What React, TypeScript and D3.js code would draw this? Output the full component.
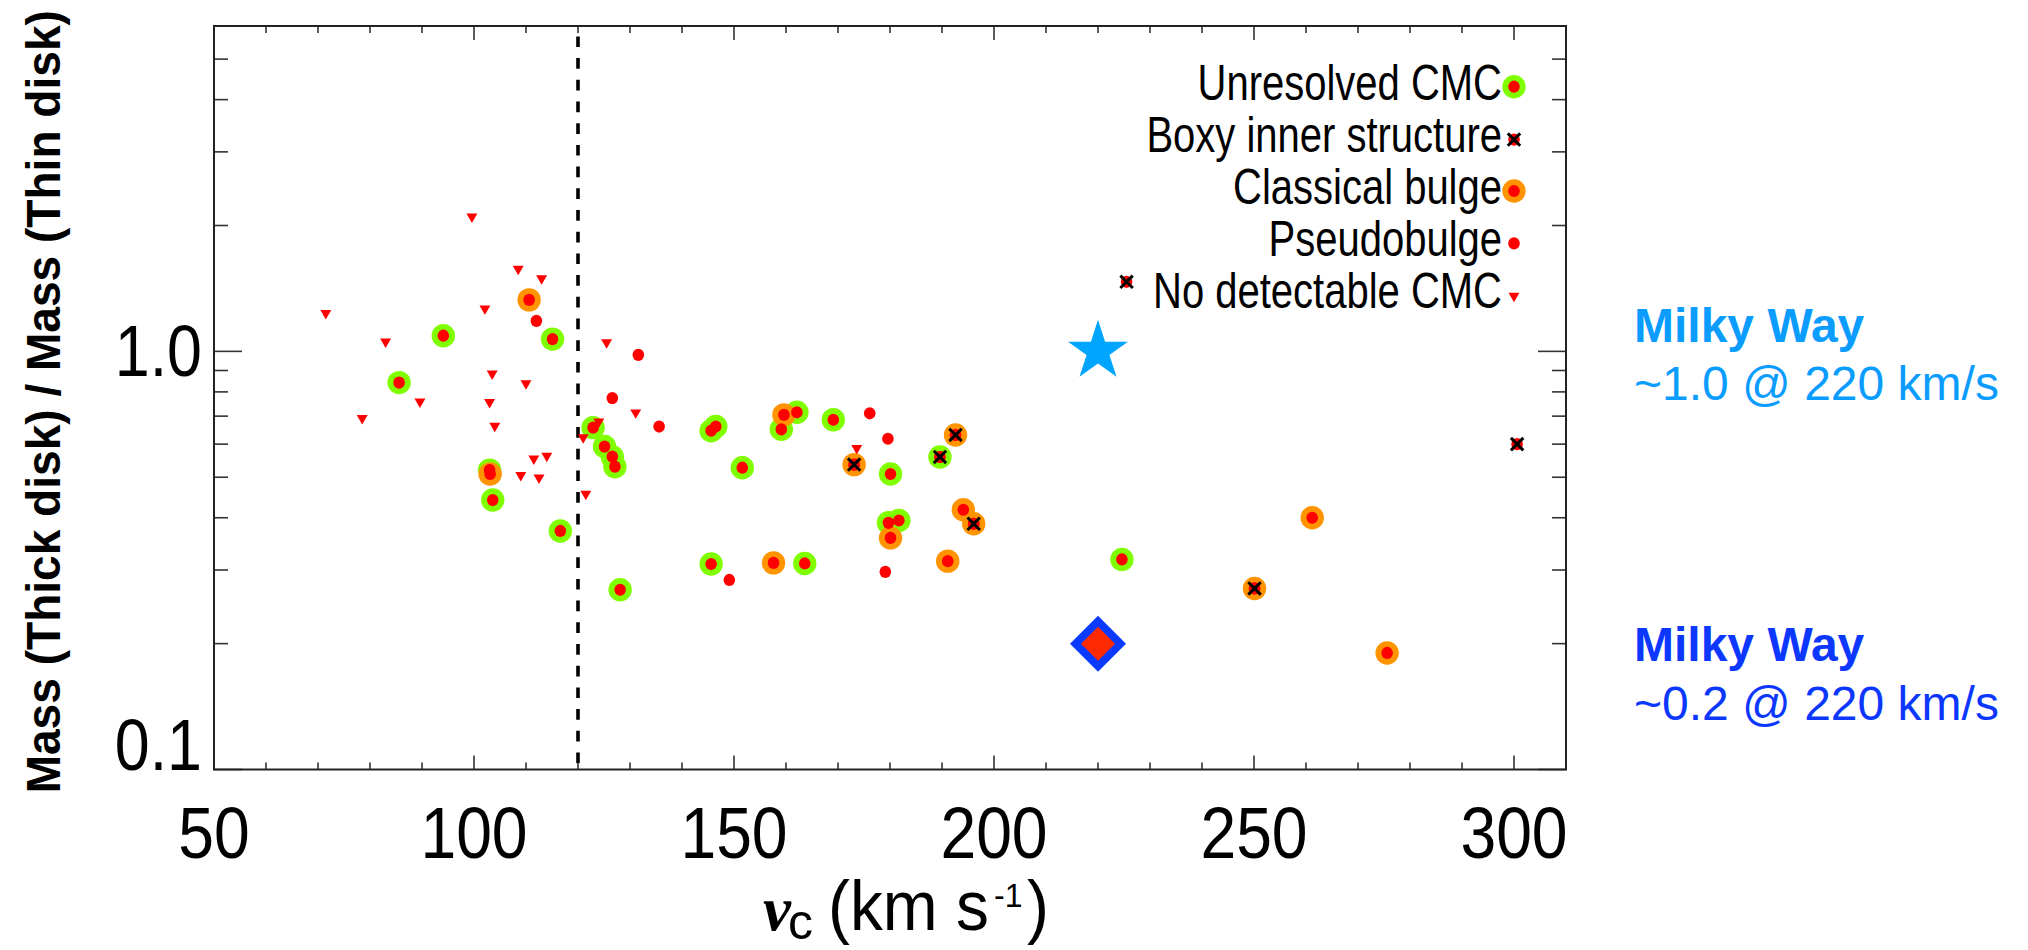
import React from 'react';
import * as d3 from 'd3';

// Thick-to-thin disk mass ratio versus circular velocity, one array pair per galaxy class.

// Unresolved central mass concentration (green ring around a red dot)
const unresolvedVc = [94.1, 115.1, 85.6, 103.6, 116.6, 128.1, 122.9, 125.1, 126.6, 127.1, 103.0, 145.6, 146.5, 162.1, 159.1, 169.1, 151.6, 180.1, 189.6, 179.7, 181.7, 145.6, 163.6, 224.6];
const unresolvedRatio = [1.09, 1.07, 0.842, 0.441, 0.372, 0.269, 0.657, 0.592, 0.56, 0.53, 0.52, 0.646, 0.661, 0.715, 0.651, 0.686, 0.527, 0.509, 0.559, 0.389, 0.394, 0.31, 0.311, 0.318];

// Classical bulge (orange ring around a red dot)
const classicalVc = [110.6, 103.1, 159.6, 173.1, 192.6, 194.1, 196.1, 180.1, 157.6, 191.1, 261.2, 250.1, 275.6];
const classicalRatio = [1.328, 0.509, 0.705, 0.536, 0.631, 0.418, 0.387, 0.358, 0.312, 0.315, 0.4, 0.271, 0.19];

// Pseudobulge only (plain red dot)
const pseudoVc = [112.0, 131.6, 126.6, 135.6, 176.1, 179.6, 149.1, 179.1];
const pseudoRatio = [1.183, 0.981, 0.773, 0.661, 0.711, 0.618, 0.284, 0.297];

// Boxy inner structure (black cross)
const boxyVc = [173.1, 192.6, 196.1, 189.6, 250.1, 225.5, 300.6];
const boxyRatio = [0.536, 0.631, 0.387, 0.559, 0.271, 1.467, 0.6];

// No detectable CMC (small red down triangle)
const noCmcVc = [99.6, 108.5, 113.0, 71.5, 102.1, 83.0, 125.5, 103.5, 110.0, 89.6, 103.0, 78.5, 104.0, 131.1, 124.0, 121.0, 111.5, 114.0, 109.0, 112.5, 121.5, 173.6];
const noCmcRatio = [2.1, 1.575, 1.494, 1.234, 1.266, 1.055, 1.05, 0.884, 0.838, 0.758, 0.756, 0.692, 0.663, 0.714, 0.679, 0.623, 0.554, 0.562, 0.506, 0.499, 0.456, 0.587];

// Milky Way reference values
const milkyWayVc = 220;
const milkyWayRatioHigh = 1.0;
const milkyWayRatioLow = 0.2;

// Velocity threshold marked by the dashed line
const thresholdVc = 120;

const legendLabels = ['Unresolved CMC', 'Boxy inner structure', 'Classical bulge', 'Pseudobulge', 'No detectable CMC'];

const xMajorTicks = [50, 100, 150, 200, 250, 300];
const xMinorTicks = d3.range(60, 310, 10).filter((v) => v % 50 !== 0);
const yMajorTicks = [0.1, 1.0];
const yMinorTicks = [0.2, 0.3, 0.4, 0.5, 0.6, 0.7, 0.8, 0.9, 2, 3, 4, 5];
const yTickLabels = ['0.1', '1.0'];

const GREEN = '#7fff00';
const ORANGE = '#ff9400';
const RED = '#ff0000';
const SANS = "'Liberation Sans', Arial, Helvetica, sans-serif";

const plot = { left: 214, right: 1566, top: 26, bottom: 769.5 };

const x = d3.scaleLinear().domain([50, 310]).range([plot.left, plot.right]);
const y = d3.scaleLog().domain([0.1, 6]).range([plot.bottom, plot.top]);

const zip = (a: number[], b: number[]) => a.map((v, i) => [v, b[i]] as [number, number]);

type STextProps = {
  x: number;
  y: number;
  sx?: number;
  rotate?: number;
  anchor?: 'start' | 'middle' | 'end';
  size: number;
  weight?: string | number;
  fill?: string;
  family?: string;
  italic?: boolean;
  children: React.ReactNode;
};

function SText({ x, y, sx = 1, rotate, anchor = 'start', size, weight = 'normal', fill = '#000', family = SANS, italic, children }: STextProps) {
  const t = `translate(${x},${y})${rotate ? ` rotate(${rotate})` : ''} scale(${sx},1)`;
  return (
    <text transform={t} textAnchor={anchor} fontSize={size} fontWeight={weight} fill={fill} fontFamily={family} fontStyle={italic ? 'italic' : 'normal'}>
      {children}
    </text>
  );
}

const triPath = d3.symbol(d3.symbolTriangle, 52)() as string;
const starPath = d3.symbol(d3.symbolStar, 1114)() as string;
const diamond = (h: number) => `M0,${-h}L${h},0L0,${h}L${-h},0Z`;

const RING_R = 11.7;

function Ring({ cx, cy, fill }: { cx: number; cy: number; fill: string }) {
  return <circle cx={cx} cy={cy} r={RING_R} fill={fill} />;
}
function Dot({ cx, cy }: { cx: number; cy: number }) {
  return <ellipse cx={cx} cy={cy} rx={5.8} ry={6.1} fill={RED} />;
}
function Tri({ cx, cy }: { cx: number; cy: number }) {
  return <path d={triPath} transform={`translate(${cx},${cy}) rotate(180)`} fill={RED} />;
}
function Cross({ cx, cy }: { cx: number; cy: number }) {
  const s = 6.2;
  return (
    <g stroke="#000" strokeWidth={3}>
      <line x1={cx - s} y1={cy - s} x2={cx + s} y2={cy + s} />
      <line x1={cx - s} y1={cy + s} x2={cx + s} y2={cy - s} />
    </g>
  );
}

export default function App() {
  const unresolved = zip(unresolvedVc, unresolvedRatio);
  const classical = zip(classicalVc, classicalRatio);
  const pseudo = zip(pseudoVc, pseudoRatio);
  const boxy = zip(boxyVc, boxyRatio);
  const noCmc = zip(noCmcVc, noCmcRatio);
  const dots = [...unresolved, ...classical, ...pseudo, ...boxy];

  const tickColor = '#333';
  const legendX = x(300);
  const legendBase = 100;
  const legendStep = 52.1;

  return (
    <div style={{ position: 'absolute', left: 0, top: 0 }}>
      <svg width={2028} height={950} style={{ display: 'block', background: '#fff' }}>
        {/* dashed velocity threshold */}
        <line x1={x(thresholdVc)} x2={x(thresholdVc)} y1={plot.top} y2={plot.bottom} stroke="#000" strokeWidth={3.6} strokeDasharray="10.7 11" strokeDashoffset={11.3} />

        {/* x ticks (bottom and top) */}
        <g stroke={tickColor} strokeWidth={1.6}>
          {xMajorTicks.map((v) => (
            <g key={`xM${v}`}>
              <line x1={x(v)} x2={x(v)} y1={plot.bottom} y2={plot.bottom - 14} />
              <line x1={x(v)} x2={x(v)} y1={plot.top} y2={plot.top + 14} />
            </g>
          ))}
          {xMinorTicks.map((v) => (
            <g key={`xm${v}`}>
              <line x1={x(v)} x2={x(v)} y1={plot.bottom} y2={plot.bottom - 7} />
              <line x1={x(v)} x2={x(v)} y1={plot.top} y2={plot.top + 7} />
            </g>
          ))}
          {yMajorTicks.map((v) => (
            <g key={`yM${v}`}>
              <line x1={plot.left} x2={plot.left + 28} y1={y(v)} y2={y(v)} />
              <line x1={plot.right} x2={plot.right - 28} y1={y(v)} y2={y(v)} />
            </g>
          ))}
          {yMinorTicks.map((v) => (
            <g key={`ym${v}`}>
              <line x1={plot.left} x2={plot.left + 14} y1={y(v)} y2={y(v)} />
              <line x1={plot.right} x2={plot.right - 14} y1={y(v)} y2={y(v)} />
            </g>
          ))}
        </g>

        {/* plot frame */}
        <rect x={plot.left} y={plot.top} width={plot.right - plot.left} height={plot.bottom - plot.top} fill="none" stroke="#222" strokeWidth={2} />

        {/* tick labels */}
        {xMajorTicks.map((v) => (
          <SText key={`xl${v}`} x={x(v)} y={858} sx={0.88} anchor="middle" size={73}>
            {String(v)}
          </SText>
        ))}
        {yMajorTicks.map((v, i) => (
          <SText key={`yl${v}`} x={202} y={Math.min(y(v) + 25, plot.bottom)} sx={0.86} anchor="end" size={73}>
            {yTickLabels[i]}
          </SText>
        ))}

        {/* axis titles */}
        <SText x={60} y={(plot.top + plot.bottom) / 2 + 4} rotate={-90} sx={0.96} anchor="middle" size={48} weight="bold">
          Mass (Thick disk) / Mass (Thin disk)
        </SText>
        <SText x={763} y={930} size={63} weight="bold" italic family="'Liberation Serif', 'Times New Roman', serif">
          v
        </SText>
        <SText x={788} y={939} sx={1} size={50}>
          c
        </SText>
        <SText x={828} y={930} sx={0.94} size={70}>
          (km s
        </SText>
        <SText x={994} y={907} sx={0.94} size={34}>
          -1
        </SText>
        <SText x={1027} y={930} sx={0.94} size={70}>
          )
        </SText>

        {/* data markers */}
        {unresolved.map(([v, r], i) => (
          <Ring key={`g${i}`} cx={x(v)} cy={y(r)} fill={GREEN} />
        ))}
        {classical.map(([v, r], i) => (
          <Ring key={`o${i}`} cx={x(v)} cy={y(r)} fill={ORANGE} />
        ))}
        {dots.map(([v, r], i) => (
          <Dot key={`d${i}`} cx={x(v)} cy={y(r)} />
        ))}
        {noCmc.map(([v, r], i) => (
          <Tri key={`t${i}`} cx={x(v)} cy={y(r)} />
        ))}
        {boxy.map(([v, r], i) => (
          <Cross key={`x${i}`} cx={x(v)} cy={y(r)} />
        ))}

        {/* Milky Way estimates */}
        <path d={starPath} transform={`translate(${x(milkyWayVc)},${y(milkyWayRatioHigh)})`} fill="#00a5ff" />
        <path d={diamond(28)} transform={`translate(${x(milkyWayVc)},${y(milkyWayRatioLow)})`} fill="#0a3aff" />
        <path d={diamond(17)} transform={`translate(${x(milkyWayVc)},${y(milkyWayRatioLow)})`} fill="#ff2a00" />

        {/* legend */}
        {legendLabels.map((label, i) => (
          <SText key={label} x={1502} y={legendBase + i * legendStep} sx={0.8} anchor="end" size={50}>
            {label}
          </SText>
        ))}
        <Ring cx={legendX} cy={legendBase - 13.3} fill={GREEN} />
        <Dot cx={legendX} cy={legendBase - 13.3} />
        <Dot cx={legendX} cy={legendBase + legendStep - 12.5} />
        <Cross cx={legendX} cy={legendBase + legendStep - 12.5} />
        <Ring cx={legendX} cy={legendBase + 2 * legendStep - 13.2} fill={ORANGE} />
        <Dot cx={legendX} cy={legendBase + 2 * legendStep - 13.2} />
        <Dot cx={legendX} cy={legendBase + 3 * legendStep - 12.9} />
        <Tri cx={legendX} cy={legendBase + 4 * legendStep - 12.5} />

        {/* Milky Way annotations */}
        <SText x={1634} y={342} size={48} weight="bold" fill="#0a9cff">
          Milky Way
        </SText>
        <SText x={1634} y={400} size={48} fill="#0a9cff">
          {`~${milkyWayRatioHigh.toFixed(1)} @ ${milkyWayVc} km/s`}
        </SText>
        <SText x={1634} y={661} size={48} weight="bold" fill="#0c37ff">
          Milky Way
        </SText>
        <SText x={1634} y={720} size={48} fill="#0c37ff">
          {`~${milkyWayRatioLow.toFixed(1)} @ ${milkyWayVc} km/s`}
        </SText>
      </svg>
    </div>
  );
}
